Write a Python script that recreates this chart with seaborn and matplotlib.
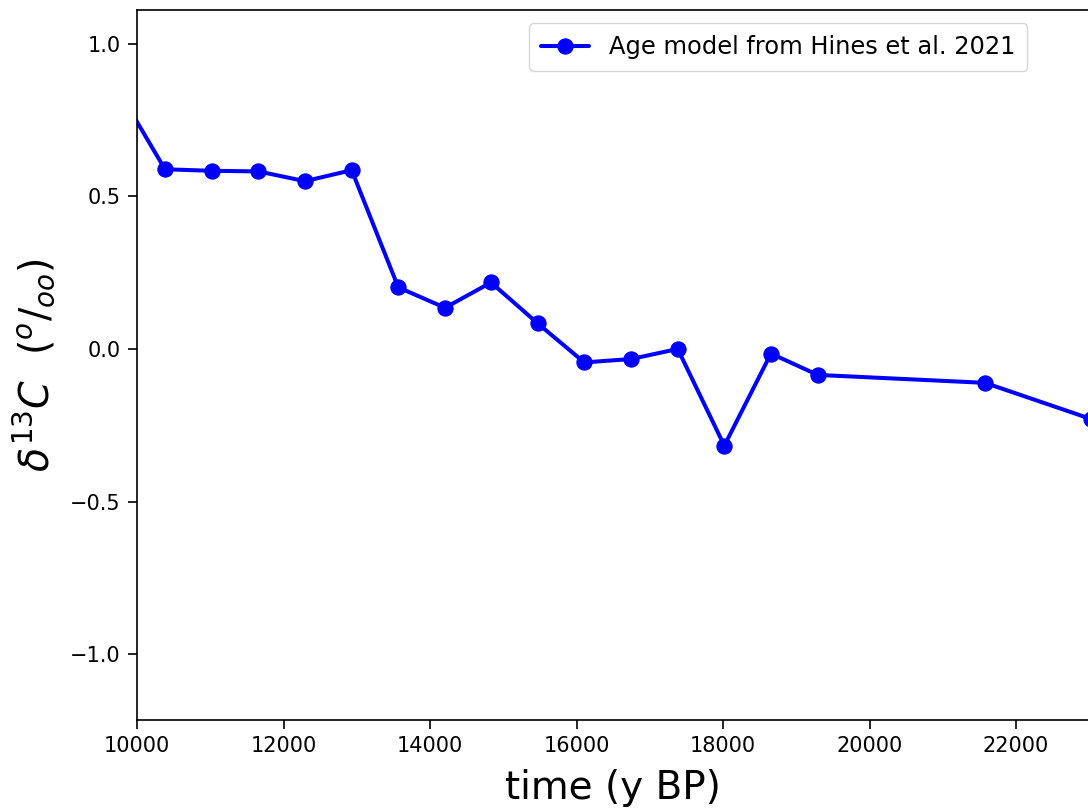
import matplotlib
matplotlib.use("Agg")
import matplotlib.pyplot as plt
import seaborn as sns

# d13C record on the Hines et al. 2021 age model
ages = [9745, 10382, 11020, 11656, 12294, 12931, 13567, 14205, 14833,
        15470, 16106, 16744, 17382, 18018, 18655, 19293, 21577, 23030]
d13c = [0.848, 0.589, 0.584, 0.582, 0.550, 0.586, 0.202, 0.135, 0.218,
        0.084, -0.044, -0.033, 0.000, -0.317, -0.015, -0.085, -0.111, -0.230]
series_label = "Age model from Hines et al. 2021"

sns.set_style("ticks")
plt.rcParams["font.family"] = ["DejaVu Sans"]
plt.rcParams["mathtext.fontset"] = "dejavusans"
plt.rcParams["text.color"] = "black"
plt.rcParams["axes.labelcolor"] = "black"

fig = plt.figure(figsize=(10.88, 8.09), dpi=100)
ax = fig.add_axes([137 / 1088, 89 / 809, 952.25 / 1088, 710 / 809])

sns.lineplot(x=ages, y=d13c, ax=ax, color="blue", marker="o",
             markersize=11, markeredgecolor="blue", linewidth=2.9,
             sort=False, estimator=None, label=series_label)

ax.set_xlim(10000, 23000)
ax.set_ylim(-1.216, 1.111)
ax.set_xticks(range(10000, 24000, 2000))
ax.set_yticks([-1.0, -0.5, 0.0, 0.5, 1.0])

ax.set_xlabel("time (y BP)", fontsize=28, labelpad=9)
ax.set_ylabel(r"$\delta^{13}C\ \ (^{o}/_{oo})$", fontsize=28.5, labelpad=9)

ax.tick_params(labelsize=15, length=6.7, width=1.2, pad=5,
               colors="black", labelcolor="black")
for s in ax.spines.values():
    s.set_linewidth(1.2)
    s.set_color("black")

ax.legend(loc="upper left", bbox_to_anchor=(529 / 1088, 1 - 23 / 809),
          bbox_transform=fig.transFigure, borderaxespad=0, fontsize=17.4,
          borderpad=0.5)

fig.savefig("out.png", dpi=100)
